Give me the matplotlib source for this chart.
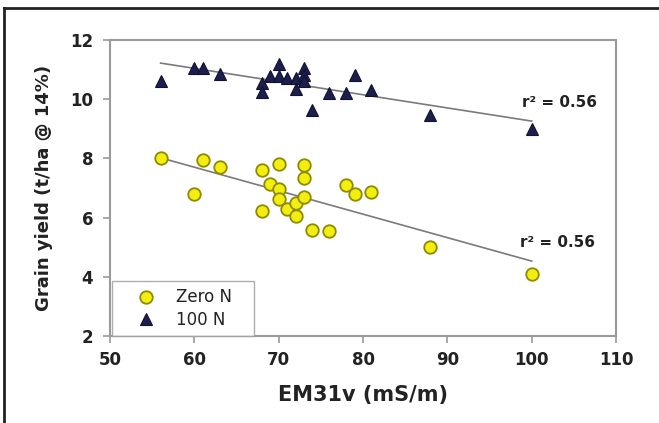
import matplotlib
matplotlib.use("Agg")
import matplotlib.pyplot as plt
from matplotlib.lines import Line2D

# ---- data ----
zero_x = [56, 60, 61, 63, 68, 68, 69, 70, 70, 70, 71, 72, 72, 73, 73, 73, 74, 76, 78, 79, 81, 88, 100]
zero_y = [8.0, 6.8, 7.95, 7.7, 7.6, 6.22, 7.15, 7.82, 6.97, 6.62, 6.28, 6.5, 6.04, 7.77, 7.33, 6.7,
          5.57, 5.54, 7.1, 6.8, 6.88, 5.0, 4.1]

n100_x = [56, 60, 61, 63, 68, 68, 69, 70, 70, 71, 72, 72, 73, 73, 73, 74, 76, 78, 79, 81, 88, 100]
n100_y = [10.6, 11.05, 11.05, 10.85, 10.55, 10.25, 10.8, 11.2, 10.8, 10.72, 10.7, 10.35, 11.05,
          10.82, 10.6, 9.65, 10.2, 10.2, 10.82, 10.32, 9.45, 9.0]

trend_x = [56, 100]
trend_zero = [8.02, 4.53]
trend_100 = [11.22, 9.26]

r2_zero = 0.56
r2_100 = 0.56

x_ticks = [50, 60, 70, 80, 90, 100, 110]
y_ticks = [2, 4, 6, 8, 10, 12]

# ---- figure ----
W, H = 659, 423
fig = plt.figure(figsize=(W / 100, H / 100), dpi=100, facecolor="white")
ax = fig.add_axes([110 / W, 1 - 336 / H, (616 - 110) / W, (336 - 40) / H])

spine_c = "#9a9a9a"
text_c = "#222222"
bold_font = "DejaVu Sans"

ax.plot(trend_x, trend_100, color="#7a7a7a", lw=1.2, zorder=2)
ax.plot(trend_x, trend_zero, color="#7a7a7a", lw=1.2, zorder=2)

ax.plot(zero_x, zero_y, linestyle="none", marker="o", markersize=9,
        markerfacecolor="#f2ee10", markeredgecolor="#8f8a00", markeredgewidth=1.3,
        label="Zero N", zorder=3)
ax.plot(n100_x, n100_y, linestyle="none", marker="^", markersize=9,
        markerfacecolor="#1c1f4e", markeredgecolor="#10122e", markeredgewidth=0.8,
        label="100 N", zorder=3)

ax.text(98.8, 9.9, f"r² = {r2_100:.2f}", fontsize=11, fontweight="bold",
        family=bold_font, color=text_c, va="center", ha="left")
ax.text(98.6, 5.15, f"r² = {r2_zero:.2f}", fontsize=11, fontweight="bold",
        family=bold_font, color=text_c, va="center", ha="left")

ax.set_xlim(50, 110)
ax.set_ylim(2, 12)
ax.set_xticks(x_ticks)
ax.set_yticks(y_ticks)
for s in ax.spines.values():
    s.set_color(spine_c)
    s.set_linewidth(1.5)
ax.tick_params(direction="out", length=5, width=1.2, color=spine_c, labelcolor=text_c,
               labelsize=12)
ax.tick_params(axis="x", pad=6)
ax.tick_params(axis="y", pad=7)
for lab in ax.get_xticklabels() + ax.get_yticklabels():
    lab.set_fontweight("bold")
    lab.set_family(bold_font)

ax.set_xlabel("EM31v (mS/m)", fontsize=15, fontweight="bold", family=bold_font, color=text_c)
ax.set_ylabel("Grain yield (t/ha @ 14%)", fontsize=13, fontweight="bold", family=bold_font,
              color=text_c)
ax.xaxis.set_label_coords(0.5, -0.165)
ax.yaxis.set_label_coords(-0.113, 0.5)

leg = ax.legend(loc="lower left", bbox_to_anchor=(0.004, 0.0, 0.281, 0.18), mode="expand",
                borderaxespad=0, fontsize=12, frameon=True, fancybox=False,
                edgecolor=spine_c, handletextpad=0.2, borderpad=0.45, labelspacing=0.25,
                handlelength=3.2)
leg.get_frame().set_linewidth(1.0)
for t in leg.get_texts():
    t.set_color(text_c)

# outer border (top and left, as in the reference)
fig.add_artist(Line2D([4 / W, 1], [1 - 8 / H, 1 - 8 / H], transform=fig.transFigure,
                      color="#222222", lw=2))
fig.add_artist(Line2D([4 / W, 4 / W], [0, 1 - 8 / H], transform=fig.transFigure,
                      color="#222222", lw=2))

fig.savefig("out.png", dpi=100, facecolor="white")
